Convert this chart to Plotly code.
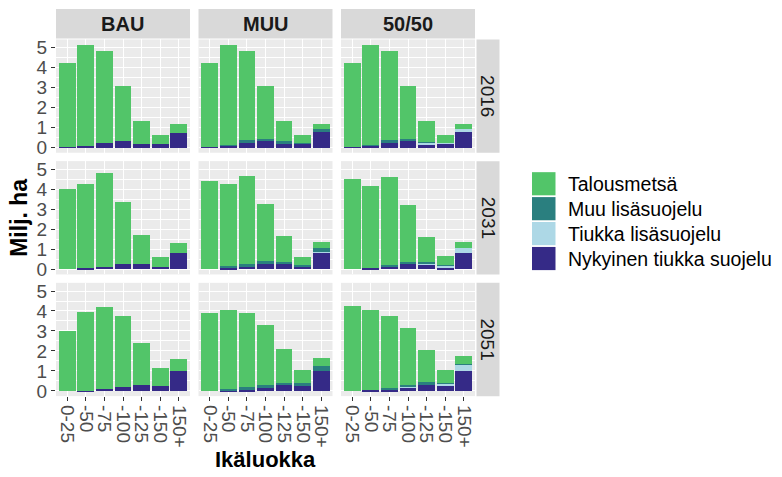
import plotly.graph_objects as go

# ---------------- data ----------------
age_classes = ["0-25", "-50", "-75", "-100", "-125", "-150", "150+"]
scenarios = ["BAU", "MUU", "50/50"]
years = ["2016", "2031", "2051"]

series_names = ["Nykyinen tiukka suojelu", "Tiukka lisäsuojelu", "Muu lisäsuojelu", "Talousmetsä"]

# BAU
nyk_bau_2016 = [0.03, 0.10, 0.22, 0.32, 0.17, 0.17, 0.75]
tiu_bau_2016 = [0, 0, 0, 0, 0, 0, 0]
muu_bau_2016 = [0, 0, 0, 0, 0, 0, 0]
tal_bau_2016 = [4.19, 5.05, 4.60, 2.77, 1.17, 0.44, 0.42]

nyk_bau_2031 = [0.00, 0.07, 0.13, 0.26, 0.26, 0.13, 0.83]
tiu_bau_2031 = [0, 0, 0, 0, 0, 0, 0]
muu_bau_2031 = [0, 0, 0, 0, 0, 0, 0]
tal_bau_2031 = [4.02, 4.18, 4.71, 3.12, 1.47, 0.49, 0.49]

nyk_bau_2051 = [0.00, 0.02, 0.10, 0.18, 0.30, 0.27, 0.99]
tiu_bau_2051 = [0, 0, 0, 0, 0, 0, 0]
muu_bau_2051 = [0, 0, 0, 0, 0, 0, 0]
tal_bau_2051 = [3.01, 3.91, 4.08, 3.55, 2.09, 0.90, 0.63]

# MUU
nyk_muu_2016 = [0.05, 0.10, 0.23, 0.31, 0.16, 0.16, 0.76]
tiu_muu_2016 = [0, 0, 0, 0, 0, 0, 0]
muu_muu_2016 = [0.00, 0.04, 0.15, 0.13, 0.15, 0.09, 0.18]
tal_muu_2016 = [4.17, 5.01, 4.44, 2.65, 1.03, 0.36, 0.23]

nyk_muu_2031 = [0.00, 0.06, 0.11, 0.26, 0.26, 0.13, 0.84]
tiu_muu_2031 = [0, 0, 0, 0, 0, 0, 0.03]
muu_muu_2031 = [0.00, 0.09, 0.14, 0.13, 0.09, 0.08, 0.18]
tal_muu_2031 = [4.40, 4.10, 4.44, 2.85, 1.30, 0.40, 0.31]

nyk_muu_2051 = [0.00, 0.04, 0.07, 0.16, 0.31, 0.29, 1.00]
tiu_muu_2051 = [0, 0, 0, 0, 0, 0, 0]
muu_muu_2051 = [0.00, 0.06, 0.13, 0.15, 0.10, 0.09, 0.25]
tal_muu_2051 = [3.91, 3.97, 3.71, 3.01, 1.71, 0.68, 0.39]

# 50/50
nyk_5050_2016 = [0.04, 0.10, 0.23, 0.31, 0.13, 0.16, 0.76]
tiu_5050_2016 = [0, 0, 0, 0, 0.10, 0.07, 0.17]
muu_5050_2016 = [0.00, 0.04, 0.15, 0.12, 0.05, 0.00, 0.00]
tal_5050_2016 = [4.18, 5.01, 4.44, 2.66, 1.06, 0.38, 0.24]

nyk_5050_2031 = [0.00, 0.06, 0.11, 0.25, 0.25, 0.08, 0.82]
tiu_5050_2031 = [0, 0, 0, 0, 0.05, 0.10, 0.25]
muu_5050_2031 = [0.00, 0.00, 0.08, 0.12, 0.04, 0.03, 0.00]
tal_5050_2031 = [4.53, 4.11, 4.43, 2.82, 1.29, 0.45, 0.29]

nyk_5050_2051 = [0.00, 0.03, 0.07, 0.16, 0.31, 0.26, 1.00]
tiu_5050_2051 = [0, 0, 0, 0.03, 0, 0.10, 0.31]
muu_5050_2051 = [0.00, 0.00, 0.09, 0.10, 0.12, 0.02, 0.03]
tal_5050_2051 = [4.25, 4.01, 3.59, 2.88, 1.61, 0.66, 0.41]

y_ticks = [0, 1, 2, 3, 4, 5]
y_minor = [0.5, 1.5, 2.5, 3.5, 4.5]

facet_data = {
    ("BAU", "2016"): [nyk_bau_2016, tiu_bau_2016, muu_bau_2016, tal_bau_2016],
    ("BAU", "2031"): [nyk_bau_2031, tiu_bau_2031, muu_bau_2031, tal_bau_2031],
    ("BAU", "2051"): [nyk_bau_2051, tiu_bau_2051, muu_bau_2051, tal_bau_2051],
    ("MUU", "2016"): [nyk_muu_2016, tiu_muu_2016, muu_muu_2016, tal_muu_2016],
    ("MUU", "2031"): [nyk_muu_2031, tiu_muu_2031, muu_muu_2031, tal_muu_2031],
    ("MUU", "2051"): [nyk_muu_2051, tiu_muu_2051, muu_muu_2051, tal_muu_2051],
    ("50/50", "2016"): [nyk_5050_2016, tiu_5050_2016, muu_5050_2016, tal_5050_2016],
    ("50/50", "2031"): [nyk_5050_2031, tiu_5050_2031, muu_5050_2031, tal_5050_2031],
    ("50/50", "2051"): [nyk_5050_2051, tiu_5050_2051, muu_5050_2051, tal_5050_2051],
}

# ---------------- style ----------------
colors = ["#352A87", "#ADD8E6", "#2A7F7F", "#52C569"]
FONT = "Liberation Sans, Arial, sans-serif"
W, H = 782, 477


def fx(p):
    return p / W


def fy(p):
    return 1 - p / H


col_px = [(56, 190), (198.5, 332.5), (341, 475)]
row_px = [(38, 153), (161.5, 276.5), (285, 400)]

fig = go.Figure()
layout = dict(
    width=W, height=H,
    margin=dict(l=0, r=0, t=0, b=0),
    paper_bgcolor="white",
    plot_bgcolor="#EBEBEB",
    barmode="stack",
    bargap=0.1,
    showlegend=False,
    font=dict(family=FONT, color="#4D4D4D"),
)

for r, yr in enumerate(years):
    for c, sc in enumerate(scenarios):
        k = r * 3 + c + 1
        sfx = "" if k == 1 else str(k)
        vals = facet_data[(sc, yr)]
        for i, name in enumerate(series_names):
            fig.add_trace(go.Bar(
                x=age_classes, y=vals[i], name=name,
                marker=dict(color=colors[i], line=dict(width=0)),
                xaxis="x" + sfx, yaxis="y" + sfx,
                legendgroup=name, showlegend=False,
            ))
        x0, x1 = col_px[c]
        y0, y1 = row_px[r]
        layout["xaxis" + sfx] = dict(
            domain=[fx(x0), fx(x1)], anchor="y" + sfx,
            type="category", categoryorder="array", categoryarray=age_classes,
            range=[-0.6, 6.6],
            tickmode="array", tickvals=age_classes, ticktext=age_classes,
            showgrid=True, gridcolor="white", gridwidth=1.4,
            zeroline=False, showline=False,
            showticklabels=(r == 2),
            ticks="outside" if r == 2 else "", ticklen=4, tickcolor="#333333", tickwidth=1,
            tickangle=90, tickfont=dict(size=19, color="#4D4D4D", family=FONT),
            fixedrange=True,
        )
        layout["yaxis" + sfx] = dict(
            domain=[fy(y1), fy(y0)], anchor="x" + sfx,
            range=[-0.26, 5.41],
            tickmode="array", tickvals=y_ticks,
            showgrid=True, gridcolor="white", gridwidth=1.4,
            minor=dict(tickvals=y_minor, showgrid=True, gridcolor="white", gridwidth=0.6, ticks=""),
            zeroline=False, showline=False,
            showticklabels=(c == 0),
            ticks="outside" if c == 0 else "", ticklen=4, tickcolor="#333333", tickwidth=1,
            tickfont=dict(size=19, color="#4D4D4D", family=FONT),
            fixedrange=True,
        )

shapes = []
annotations = []

# column strips
for c, sc in enumerate(scenarios):
    x0, x1 = col_px[c]
    shapes.append(dict(type="rect", xref="paper", yref="paper",
                       x0=fx(x0), x1=fx(x1), y0=fy(37), y1=fy(7),
                       fillcolor="#D9D9D9", line=dict(width=0), layer="below"))
    annotations.append(dict(text="<b>%s</b>" % sc, xref="paper", yref="paper",
                            x=fx((x0 + x1) / 2), y=fy(22), showarrow=False,
                            xanchor="center", yanchor="middle",
                            font=dict(size=20, color="#1A1A1A", family=FONT)))

# row strips
for r, yr in enumerate(years):
    y0, y1 = row_px[r]
    shapes.append(dict(type="rect", xref="paper", yref="paper",
                       x0=fx(476.5), x1=fx(499.5), y0=fy(y1), y1=fy(y0),
                       fillcolor="#D9D9D9", line=dict(width=0), layer="below"))
    annotations.append(dict(text=yr, xref="paper", yref="paper",
                            x=fx(488), y=fy((y0 + y1) / 2), showarrow=False,
                            textangle=90, xanchor="center", yanchor="middle",
                            font=dict(size=19, color="#1A1A1A", family=FONT)))

# axis titles
annotations.append(dict(text="<b>Milj. ha</b>", xref="paper", yref="paper",
                        x=fx(19), y=fy(219), showarrow=False, textangle=-90,
                        xanchor="center", yanchor="middle",
                        font=dict(size=23, color="black", family=FONT)))
annotations.append(dict(text="<b>Ikäluokka</b>", xref="paper", yref="paper",
                        x=fx(265.5), y=fy(464), showarrow=False,
                        xanchor="center", yanchor="middle",
                        font=dict(size=22, color="black", family=FONT)))

# legend (top to bottom: Talousmetsä, Muu, Tiukka, Nykyinen)
legend_order = [3, 2, 1, 0]
key_tops = [172.7, 198.0, 223.3, 248.6]
for j, si in enumerate(legend_order):
    t = key_tops[j]
    shapes.append(dict(type="rect", xref="paper", yref="paper",
                       x0=fx(532), x1=fx(555.5), y0=fy(t + 23.5), y1=fy(t),
                       fillcolor=colors[si], line=dict(width=0)))
    annotations.append(dict(text=series_names[si], xref="paper", yref="paper",
                            x=fx(566), y=fy(t + 11.75), showarrow=False,
                            xanchor="left", yanchor="middle",
                            font=dict(size=19.5, color="black", family=FONT)))

layout["shapes"] = shapes
layout["annotations"] = annotations
fig.update_layout(**layout)
fig.write_html(
    "out.html",
    config={"displayModeBar": False},
    post_script="document.body.style.margin='0px';document.body.style.overflow='hidden';",
)
